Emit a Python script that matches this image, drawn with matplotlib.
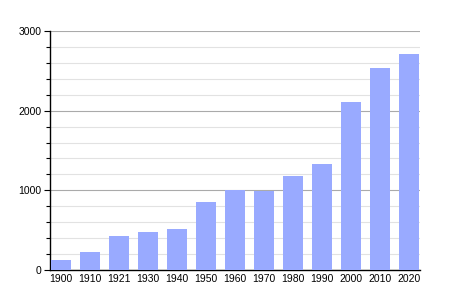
import matplotlib
matplotlib.use("Agg")
import matplotlib.pyplot as plt
from matplotlib.ticker import MultipleLocator

years = ["1900", "1910", "1921", "1930", "1940", "1950", "1960", "1970", "1980", "1990", "2000", "2010", "2020"]
population = [130, 225, 430, 480, 515, 850, 1000, 995, 1180, 1330, 2110, 2530, 2710]
yticks = [0, 1000, 2000, 3000]

plt.rcParams['font.family'] = ['Liberation Sans', 'DejaVu Sans']
fig = plt.figure(figsize=(4.5, 3), dpi=100)
ax = fig.add_axes([50/450, 30/300, 370/450, 239/300])

x = list(range(len(years)))
ax.bar(x, population, width=0.72, color="#99aaff", zorder=3)

ax.set_xlim(-0.38, len(years) - 1 + 0.38)
ax.set_ylim(0, 3000)
ax.set_yticks(yticks)
ax.set_yticklabels([str(v) for v in yticks], fontsize=7.5)
ax.yaxis.set_minor_locator(MultipleLocator(200))
ax.set_xticks(x)
ax.set_xticklabels(years, fontsize=7.5)
ax.tick_params(axis='x', length=0, pad=3)
ax.tick_params(axis='y', which='major', length=4, width=0.8, pad=2)
ax.tick_params(axis='y', which='minor', length=3, width=0.8)
ax.grid(axis='y', which='major', color="#aaaaaa", linewidth=0.8, zorder=1)
ax.grid(axis='y', which='minor', color="#e2e2e2", linewidth=0.8, zorder=1)
for s in ['top', 'right']:
    ax.spines[s].set_visible(False)
ax.spines['left'].set_linewidth(1.0)
ax.spines['bottom'].set_linewidth(1.0)
ax.set_axisbelow(True)

fig.savefig("out.png", dpi=100)
